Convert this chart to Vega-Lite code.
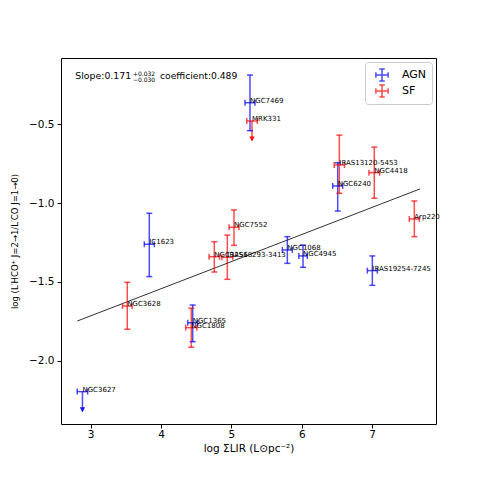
{
  "$schema": "https://vega.github.io/schema/vega-lite/v6.json",
  "width": 375,
  "height": 366,
  "autosize": "none",
  "padding": {"left": 61, "top": 58, "right": 49, "bottom": 61},
  "background": "white",
  "config": {
    "font": "DejaVu Sans",
    "view": {"stroke": "black", "strokeWidth": 1},
    "axis": {"grid": false, "domain": false, "tickColor": "black", "tickSize": 4, "labelColor": "black", "labelFontSize": 10.5, "labelFont": "DejaVu Sans", "titleFont": "DejaVu Sans", "titleFontWeight": "normal", "titleFontSize": 10.5, "titleColor": "black"}
  },
  "datasets": {
    "pts": [
      {"name": "NGC7469", "type": "AGN", "x": 5.264, "xlo": 5.193, "xhi": 5.335, "y": -0.365, "ylo": -0.542, "yhi": -0.19, "lim": false},
      {"name": "NGC3627", "type": "AGN", "x": 2.883, "xlo": 2.809, "xhi": 2.957, "y": -2.194, "ylo": -2.321, "yhi": -2.194, "lim": true},
      {"name": "IC1623", "type": "AGN", "x": 3.833, "xlo": 3.762, "xhi": 3.904, "y": -1.261, "ylo": -1.466, "yhi": -1.065, "lim": false},
      {"name": "NGC1365", "type": "AGN", "x": 4.45, "xlo": 4.379, "xhi": 4.521, "y": -1.758, "ylo": -1.878, "yhi": -1.646, "lim": false},
      {"name": "NGC1068", "type": "AGN", "x": 5.795, "xlo": 5.724, "xhi": 5.866, "y": -1.297, "ylo": -1.382, "yhi": -1.213, "lim": false},
      {"name": "NGC4945", "type": "AGN", "x": 6.018, "xlo": 5.958, "xhi": 6.078, "y": -1.335, "ylo": -1.407, "yhi": -1.266, "lim": false},
      {"name": "NGC6240", "type": "AGN", "x": 6.511, "xlo": 6.44, "xhi": 6.582, "y": -0.892, "ylo": -1.051, "yhi": -0.745, "lim": false},
      {"name": "IRAS19254-7245", "type": "AGN", "x": 7.003, "xlo": 6.932, "xhi": 7.074, "y": -1.428, "ylo": -1.521, "yhi": -1.335, "lim": false},
      {"name": "MRK331", "type": "SF", "x": 5.293, "xlo": 5.218, "xhi": 5.368, "y": -0.481, "ylo": -0.606, "yhi": -0.481, "lim": true},
      {"name": "IRAS13120-5453", "type": "SF", "x": 6.534, "xlo": 6.461, "xhi": 6.607, "y": -0.759, "ylo": -0.939, "yhi": -0.57, "lim": false},
      {"name": "NGC4418", "type": "SF", "x": 7.031, "xlo": 6.955, "xhi": 7.107, "y": -0.808, "ylo": -0.97, "yhi": -0.646, "lim": false},
      {"name": "Arp220", "type": "SF", "x": 7.6, "xlo": 7.529, "xhi": 7.671, "y": -1.101, "ylo": -1.213, "yhi": -0.987, "lim": false},
      {"name": "NGC7552", "type": "SF", "x": 5.037, "xlo": 4.966, "xhi": 5.108, "y": -1.154, "ylo": -1.268, "yhi": -1.044, "lim": false},
      {"name": "NGC3256", "type": "SF", "x": 4.757, "xlo": 4.682, "xhi": 4.832, "y": -1.34, "ylo": -1.437, "yhi": -1.245, "lim": false},
      {"name": "IRAS18293-3413", "type": "SF", "x": 4.942, "xlo": 4.864, "xhi": 5.02, "y": -1.344, "ylo": -1.483, "yhi": -1.203, "lim": false},
      {"name": "NGC3628", "type": "SF", "x": 3.52, "xlo": 3.452, "xhi": 3.588, "y": -1.652, "ylo": -1.799, "yhi": -1.502, "lim": false},
      {"name": "NGC1808", "type": "SF", "x": 4.43, "xlo": 4.35, "xhi": 4.51, "y": -1.789, "ylo": -1.913, "yhi": -1.666, "lim": false}
    ],
    "fit": [
      {"x": 2.81, "y": -1.747},
      {"x": 7.68, "y": -0.911}
    ]
  },
  "layer": [
    {
      "data": {"name": "fit"},
      "mark": {"type": "line", "color": "#333333", "strokeWidth": 1},
      "encoding": {
        "x": {"field": "x", "type": "quantitative", "scale": {"domain": [2.578, 7.908], "nice": false, "zero": false}, "axis": {"values": [3, 4, 5, 6, 7], "format": "d", "title": "log ΣLIR (L⊙pc⁻²)", "labelPadding": 1, "titlePadding": 4}},
        "y": {"field": "y", "type": "quantitative", "scale": {"domain": [-2.399, -0.082], "nice": false, "zero": false}, "axis": {"values": [-2.0, -1.5, -1.0, -0.5], "format": ".1f", "title": "log (L′HCO⁺ J=2→1/L′CO J=1→0)", "titleFontSize": 8.5, "labelPadding": 3, "titlePadding": 9}}
      }
    },
    {
      "data": {"name": "pts"},
      "mark": {"type": "rule", "strokeWidth": 1.5, "opacity": 0.7},
      "encoding": {
        "x": {"field": "x", "type": "quantitative"},
        "y": {"field": "ylo", "type": "quantitative"},
        "y2": {"field": "yhi"},
        "color": {"field": "type", "type": "nominal", "scale": {"domain": ["AGN", "SF"], "range": ["blue", "red"]},
          "legend": {"title": null, "orient": "top-right", "offset": 4, "symbolType": "M-1,0H1M0,-1V1M-1,-0.45V0.45M1,-0.45V0.45M-0.45,-1H0.45M-0.45,1H0.45", "symbolSize": 150, "symbolStrokeWidth": 1.5, "symbolFillColor": "transparent", "symbolOpacity": 0.8, "symbolOffset": 5, "clipHeight": 16, "labelFontSize": 11, "labelFont": "DejaVu Sans", "labelColor": "black", "strokeColor": "#cccccc", "fillColor": "white", "cornerRadius": 3, "padding": 5, "rowPadding": 0, "labelOffset": 13}}
      }
    },
    {
      "data": {"name": "pts"},
      "mark": {"type": "rule", "strokeWidth": 1.5, "opacity": 0.7},
      "encoding": {
        "y": {"field": "y", "type": "quantitative"},
        "x": {"field": "xlo", "type": "quantitative"},
        "x2": {"field": "xhi"},
        "color": {"field": "type", "type": "nominal"}
      }
    },
    {
      "data": {"name": "pts"},
      "transform": [{"filter": "!datum.lim"}],
      "mark": {"type": "tick", "orient": "horizontal", "size": 6, "thickness": 1.5, "opacity": 0.7},
      "encoding": {
        "x": {"field": "x", "type": "quantitative"},
        "y": {"field": "ylo", "type": "quantitative"},
        "color": {"field": "type", "type": "nominal"}
      }
    },
    {
      "data": {"name": "pts"},
      "transform": [{"filter": "!datum.lim"}],
      "mark": {"type": "tick", "orient": "horizontal", "size": 6, "thickness": 1.5, "opacity": 0.7},
      "encoding": {
        "x": {"field": "x", "type": "quantitative"},
        "y": {"field": "yhi", "type": "quantitative"},
        "color": {"field": "type", "type": "nominal"}
      }
    },
    {
      "data": {"name": "pts"},
      "mark": {"type": "tick", "orient": "vertical", "size": 6, "thickness": 1.5, "opacity": 0.7},
      "encoding": {
        "x": {"field": "xlo", "type": "quantitative"},
        "y": {"field": "y", "type": "quantitative"},
        "color": {"field": "type", "type": "nominal"}
      }
    },
    {
      "data": {"name": "pts"},
      "mark": {"type": "tick", "orient": "vertical", "size": 6, "thickness": 1.5, "opacity": 0.7},
      "encoding": {
        "x": {"field": "xhi", "type": "quantitative"},
        "y": {"field": "y", "type": "quantitative"},
        "color": {"field": "type", "type": "nominal"}
      }
    },
    {
      "data": {"name": "pts"},
      "transform": [{"filter": "datum.lim"}],
      "mark": {"type": "point", "shape": "triangle-down", "filled": true, "size": 30, "opacity": 0.9, "yOffset": -2},
      "encoding": {
        "x": {"field": "x", "type": "quantitative"},
        "y": {"field": "ylo", "type": "quantitative"},
        "color": {"field": "type", "type": "nominal"}
      }
    },
    {
      "data": {"name": "pts"},
      "mark": {"type": "text", "align": "left", "baseline": "alphabetic", "fontSize": 7, "color": "black", "font": "DejaVu Sans"},
      "encoding": {
        "x": {"field": "x", "type": "quantitative"},
        "y": {"field": "y", "type": "quantitative"},
        "text": {"field": "name"}
      }
    },
    {
      "data": {"values": [{"t": "Slope:0.171"}]},
      "mark": {"type": "text", "align": "left", "baseline": "alphabetic", "fontSize": 9.4, "color": "black"},
      "encoding": {"x": {"datum": 2.78}, "y": {"datum": -0.218}, "text": {"field": "t"}}
    },
    {
      "data": {"values": [{"t": "+0.032"}]},
      "mark": {"type": "text", "align": "left", "baseline": "alphabetic", "fontSize": 6, "color": "black"},
      "encoding": {"x": {"datum": 3.6}, "y": {"datum": -0.193}, "text": {"field": "t"}}
    },
    {
      "data": {"values": [{"t": "−0.030"}]},
      "mark": {"type": "text", "align": "left", "baseline": "alphabetic", "fontSize": 6, "color": "black"},
      "encoding": {"x": {"datum": 3.6}, "y": {"datum": -0.233}, "text": {"field": "t"}}
    },
    {
      "data": {"values": [{"t": "coefficient:0.489"}]},
      "mark": {"type": "text", "align": "left", "baseline": "alphabetic", "fontSize": 9.2, "color": "black"},
      "encoding": {"x": {"datum": 3.985}, "y": {"datum": -0.218}, "text": {"field": "t"}}
    }
  ]
}
